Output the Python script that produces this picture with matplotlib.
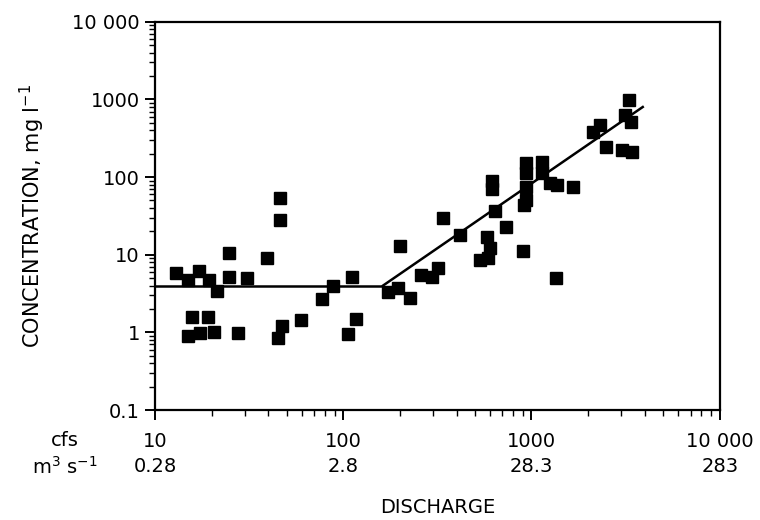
import matplotlib.pyplot as plt
from matplotlib.ticker import FixedLocator, LogLocator, NullFormatter

# datos (descarga en cfs, concentracion en mg/l)
descarga = [13.0, 15.0, 17.2, 19.4, 21.4, 24.8, 24.8, 30.9, 39.2, 46.1, 46.1,
            15.7, 19.2, 15.0, 17.3, 20.6, 27.7, 45.2, 47.1, 59.4, 76.8, 87.8,
            110.9, 116.7, 106.4,
            173, 196, 226, 200, 260, 295, 320, 337, 417, 532, 589, 577, 601,
            614, 614, 640, 731, 896, 1349, 1663,
            934, 934, 934, 934, 910, 1132, 1132, 1253, 1360,
            3300, 3130, 3370, 2310, 2130, 2500, 3010, 3410]
concentracion = [5.8, 4.7, 6.2, 4.7, 3.4, 10.6, 5.2, 5.0, 9.0, 53.5, 28,
                 1.6, 1.6, 0.90, 0.97, 1.02, 0.97, 0.84, 1.2, 1.45, 2.7, 3.9,
                 5.2, 1.5, 0.95,
                 3.35, 3.7, 2.76, 13, 5.5, 5.2, 6.7, 29.5, 18, 8.6, 9.0, 17.1, 12.1,
                 90, 70, 37, 23, 11.3, 5.0, 75,
                 151, 112, 75, 51, 44, 158, 112, 83, 79,
                 990, 630, 520, 470, 385, 247, 224, 213]

# recta ajustada (dos tramos)
linea_x = [10, 160, 3900]
linea_y = [3.9, 3.9, 800]

ticks_cfs = [10, 100, 1000, 10000]
etiquetas_cfs = ['10', '100', '1000', '10 000']
etiquetas_m3 = ['0.28', '2.8', '28.3', '283']
ticks_conc = [0.1, 1, 10, 100, 1000, 10000]
etiquetas_conc = ['0.1', '1', '10', '100', '1000', '10 000']

plt.rcParams['font.family'] = ['DejaVu Sans']
fig = plt.figure(figsize=(7.6, 5.2), dpi=100)
ax = fig.add_axes([0.204, 0.2115, 0.743, 0.7465])

ax.plot(linea_x, linea_y, color='black', linewidth=1.8, zorder=2)
ax.plot(descarga, concentracion, 's', color='black', markersize=8, zorder=3)

ax.set_xscale('log')
ax.set_yscale('log')
ax.set_xlim(10, 10000)
ax.set_ylim(0.1, 10000)

for s in ax.spines.values():
    s.set_linewidth(1.6)

ax.xaxis.set_major_locator(FixedLocator(ticks_cfs))
ax.set_xticklabels([c + '\n' + m for c, m in zip(etiquetas_cfs, etiquetas_m3)],
                   fontsize=14, linespacing=1.4)
ax.xaxis.set_minor_locator(LogLocator(base=10, subs=range(2, 10)))
ax.xaxis.set_minor_formatter(NullFormatter())
ax.yaxis.set_major_locator(FixedLocator(ticks_conc))
ax.set_yticklabels(etiquetas_conc, fontsize=14)
ax.yaxis.set_minor_locator(LogLocator(base=10, subs=range(2, 10)))
ax.yaxis.set_minor_formatter(NullFormatter())

ax.tick_params(which='major', direction='out', length=7, width=1.4, pad=4)
ax.tick_params(which='minor', direction='out', length=4, width=1.0)
ax.tick_params(axis='x', which='major', pad=9)

ax.set_ylabel('CONCENTRATION, mg l$^{-1}$', fontsize=15, labelpad=18)
ax.set_xlabel('DISCHARGE', fontsize=14, labelpad=16)

fig.text(0.085, 0.153, 'cfs', fontsize=14, ha='center', va='center')
fig.text(0.085, 0.103, 'm$^3$ s$^{-1}$', fontsize=14, ha='center', va='center')

fig.savefig('out.png', dpi=100, facecolor='white')
